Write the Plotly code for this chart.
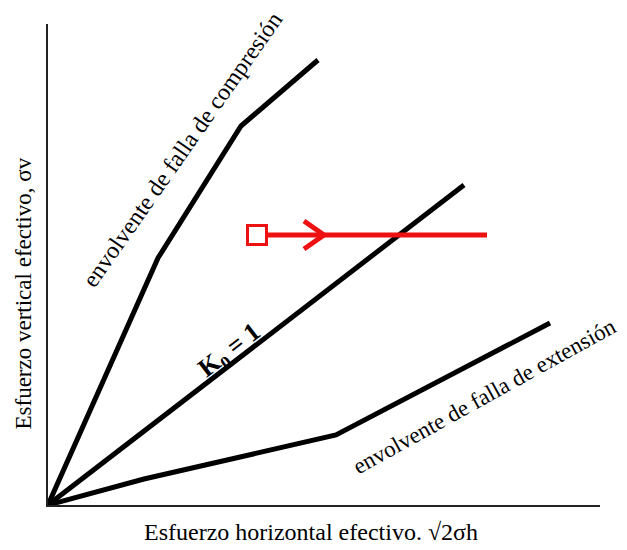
import plotly.graph_objects as go

# Trayectorias (unidades arbitrarias de esfuerzo)
compresion_x = [0, 110, 193, 270]
compresion_y = [0, 247, 379, 445]

k0_x = [0, 416]
k0_y = [0, 320]

extension_x = [0, 96, 288, 502]
extension_y = [0, 26, 70, 182]

# Trayectoria de esfuerzos (en rojo)
ruta_x = [209, 439]
ruta_y = [270, 270]
flecha_x = 276  # punta de la flecha sobre la trayectoria

FUENTE = "Liberation Serif, Times New Roman, serif"
NEGRO = "black"
ROJO = "#ee1111"

fig = go.Figure()

for xs, ys in [(compresion_x, compresion_y), (k0_x, k0_y), (extension_x, extension_y)]:
    fig.add_trace(go.Scatter(x=xs, y=ys, mode="lines",
                             line=dict(color=NEGRO, width=5),
                             showlegend=False, hoverinfo="skip"))

# linea roja
fig.add_trace(go.Scatter(x=[ruta_x[0] + 11, ruta_x[1]], y=ruta_y, mode="lines",
                         line=dict(color=ROJO, width=5),
                         showlegend=False, hoverinfo="skip"))
# punta de flecha abierta
brazo_dx, brazo_dy = 20, 14
fig.add_trace(go.Scatter(
    x=[flecha_x - brazo_dx, flecha_x, flecha_x - brazo_dx],
    y=[ruta_y[0] + brazo_dy, ruta_y[0], ruta_y[0] - brazo_dy],
    mode="lines", line=dict(color=ROJO, width=5),
    showlegend=False, hoverinfo="skip"))
# punto inicial (cuadrado)
fig.add_trace(go.Scatter(x=[ruta_x[0]], y=[ruta_y[0]], mode="markers",
                         marker=dict(symbol="square", size=19, color="white",
                                     line=dict(color=ROJO, width=3)),
                         showlegend=False, hoverinfo="skip"))

# etiquetas de las envolventes
fig.add_annotation(x=134, y=355, xref="x", yref="y",
                   text="envolvente de falla de compresión", textangle=-55, showarrow=False,
                   font=dict(family=FUENTE, size=24, color=NEGRO))
fig.add_annotation(x=436, y=109, xref="x", yref="y",
                   text="envolvente de falla de extensión", textangle=-29, showarrow=False,
                   font=dict(family=FUENTE, size=23, color=NEGRO))
fig.add_annotation(x=182, y=154, xref="x", yref="y",
                   text="<b>K<sub>0</sub> = 1</b>", textangle=-37.6, showarrow=False,
                   font=dict(family=FUENTE, size=26, color=NEGRO))

# titulos de ejes
fig.add_annotation(x=-0.045, y=0.44, xref="paper", yref="paper",
                   xanchor="center", yanchor="middle",
                   text="Esfuerzo vertical efectivo, σv", textangle=-90, showarrow=False,
                   font=dict(family=FUENTE, size=23, color=NEGRO))
fig.add_annotation(x=0.476, y=-0.056, xref="paper", yref="paper",
                   xanchor="center", yanchor="middle",
                   text="Esfuerzo horizontal efectivo. √2σh", showarrow=False,
                   font=dict(family=FUENTE, size=24, color=NEGRO))

# la pagina tiene 8 px de margen en el body
fig.update_layout(
    width=619, height=542,
    margin=dict(l=40, r=27, t=16, b=45),
    plot_bgcolor="white", paper_bgcolor="white",
    xaxis=dict(range=[0, 552], showgrid=False, zeroline=False, showticklabels=False,
               ticks="", showline=True, linecolor="#222222", linewidth=2),
    yaxis=dict(range=[0, 481], showgrid=False, zeroline=False, showticklabels=False,
               ticks="", showline=True, linecolor="#222222", linewidth=2),
)

fig.write_html("out.html")
